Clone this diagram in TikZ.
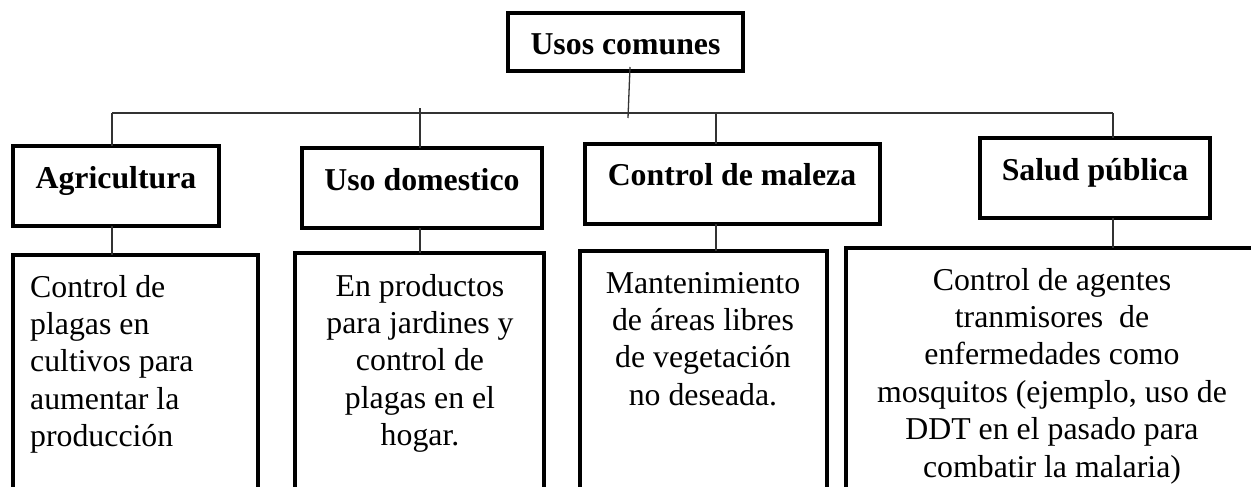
\documentclass[tikz,border=0pt]{standalone}
\usepackage{fontspec}
\setmainfont{Liberation Serif}
\begin{document}
\begin{tikzpicture}[x=1pt,y=-1pt,
  box/.style={draw=black, line width=3.3pt, rectangle, inner sep=0pt, outer sep=0pt, anchor=north west},
  conn/.style={draw=black!80, line width=1.3pt},
  head/.style={font=\fontsize{31.8}{37.4}\selectfont\bfseries, inner sep=0pt, anchor=base},
  body/.style={font=\fontsize{31.8}{37.4}\selectfont, inner sep=0pt, anchor=north, align=center}]
\useasboundingbox (0,0) rectangle (1251,487);
\clip (0,0) rectangle (1251,487);
% boxes
\node[box, minimum width=235pt, minimum height=58pt] (root) at (508,13) {};
\node[box, minimum width=206pt, minimum height=80pt] (A) at (13,146) {};
\node[box, minimum width=240pt, minimum height=80pt] (B) at (302,148) {};
\node[box, minimum width=295pt, minimum height=80pt] (C) at (585,144) {};
\node[box, minimum width=230pt, minimum height=80pt] (D) at (980,138) {};
\node[box, minimum width=245pt, minimum height=250pt] (A2) at (13,255) {};
\node[box, minimum width=249pt, minimum height=252pt] (B2) at (295,253) {};
\node[box, minimum width=247pt, minimum height=254pt] (C2) at (580,251) {};
\node[box, minimum width=414pt, minimum height=257pt] (D2) at (846,248) {};
% junction coordinates
\coordinate (rootj) at (628,118);
\coordinate (busL) at (112,113);
\coordinate (busR) at (1113,113);
\coordinate (bB) at (420,108);
\coordinate (bC) at (716,113);
% connectors
\draw[conn] ([xshift=4.5pt,yshift=4pt]root.south) -- (rootj);
\draw[conn] (busL) -- (busR);
\draw[conn] (busL) -- (busL |- A.north);
\draw[conn] (bB) -- (bB |- B.north);
\draw[conn] (bC) -- (bC |- C.north);
\draw[conn] (busR) -- (busR |- D.north);
\draw[conn] (A.south -| busL) -- (A2.north -| busL);
\draw[conn] (B.south -| bB) -- (B2.north -| bB);
\draw[conn] (C.south -| bC) -- (C2.north -| bC);
\draw[conn] (D.south -| busR) -- (D2.north -| busR);
% headings
\node[head] (troot) at (625.5,55) {Usos comunes};
\node[head] (tA) at (116,188) {Agricultura};
\node[head] (tB) at (422,190) {Uso domestico};
\node[head] (tC) at (732,185) {Control de maleza};
\node[head] (tD) at (1095,180) {Salud pública};
% body texts
\node[body, anchor=north west, align=left] (tA2) at (30,270.8) {\strut Control de\\plagas en\\cultivos para\\aumentar la\\producción};
\node[body] (tB2) at (420,269.8) {\strut En productos\\para jardines y\\control de\\plagas en el\\hogar.};
\node[body] (tC2) at (703,266.8) {\strut Mantenimiento\\de áreas libres\\de vegetación\\no deseada.};
\node[body] (tD2) at (1052,263.8) {\strut Control de agentes\\tranmisores\ \ de\\enfermedades como\\mosquitos (ejemplo, uso de\\DDT en el pasado para\\combatir la malaria)};
\end{tikzpicture}
\end{document}
